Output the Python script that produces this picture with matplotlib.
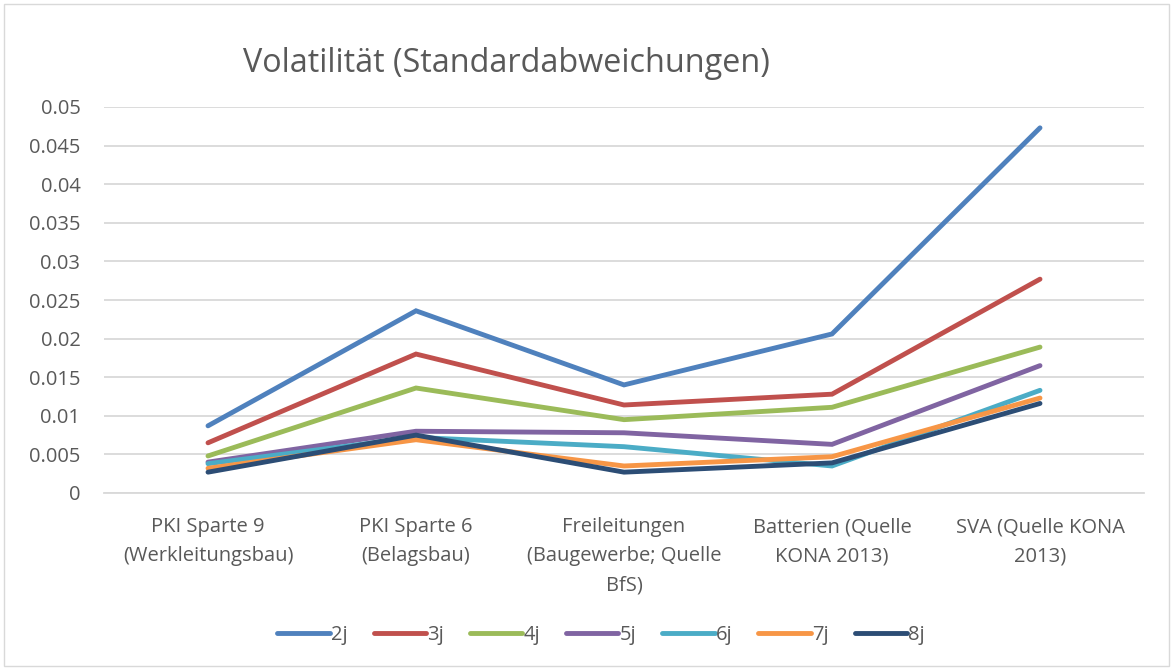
import matplotlib
matplotlib.use("Agg")
import matplotlib.pyplot as plt
from matplotlib.patches import Rectangle

plt.rcParams['font.family'] = ['Open Sans', 'DejaVu Sans']

categories = ['PKI Sparte 9\n(Werkleitungsbau)', 'PKI Sparte 6\n(Belagsbau)',
              'Freileitungen\n(Baugewerbe; Quelle\nBfS)', 'Batterien (Quelle\nKONA 2013)',
              'SVA (Quelle KONA\n2013)']
series_names = ['2j', '3j', '4j', '5j', '6j', '7j', '8j']
v_2j = [0.0087, 0.0236, 0.0140, 0.0206, 0.0473]
v_3j = [0.0065, 0.0180, 0.0114, 0.0128, 0.0277]
v_4j = [0.0048, 0.0136, 0.0095, 0.0111, 0.0189]
v_5j = [0.0040, 0.0080, 0.0078, 0.0063, 0.0165]
v_6j = [0.0038, 0.0072, 0.0060, 0.0035, 0.0133]
v_7j = [0.0032, 0.0069, 0.0035, 0.0047, 0.0123]
v_8j = [0.0027, 0.0075, 0.0027, 0.0039, 0.0116]
colors = ['#4F81BD', '#C0504D', '#9BBB59', '#8064A2', '#4BACC6', '#F79646', '#2C4D75']
y_ticks = [0, 0.005, 0.01, 0.015, 0.02, 0.025, 0.03, 0.035, 0.04, 0.045, 0.05]
y_labels = ['0', '0.005', '0.01', '0.015', '0.02', '0.025', '0.03', '0.035', '0.04', '0.045', '0.05']

txt = '#595959'
fig = plt.figure(figsize=(11.74, 6.70), dpi=100)
ax = fig.add_axes([104/1174, 1-493/670, 1040/1174, 386/670])

# outer chart border
fig.add_artist(Rectangle((4/1174, 4/670), 1165/1174, 662/670, transform=fig.transFigure,
                         fill=False, edgecolor='#D9D9D9', linewidth=1))

x = range(len(categories))
all_vals = [v_2j, v_3j, v_4j, v_5j, v_6j, v_7j, v_8j]
for name, vals, c in zip(series_names, all_vals, colors):
    ax.plot(x, vals, color=c, linewidth=3.5, label=name, solid_capstyle='round',
            solid_joinstyle='miter')

ax.set_xlim(-0.5, 4.5)
ax.set_ylim(0, 0.05)
ax.set_yticks(y_ticks, y_labels)
ax.set_xticks(list(x), categories)
ax.grid(True, axis='y', color='#D9D9D9', linewidth=1.3)
ax.set_axisbelow(True)
for s in ['top', 'right', 'left']:
    ax.spines[s].set_visible(False)
ax.spines['bottom'].set_color('#D9D9D9')
ax.spines['bottom'].set_linewidth(1.3)
ax.tick_params(axis='both', length=0, labelsize=14.5, colors=txt)
ax.tick_params(axis='y', pad=17)
ax.tick_params(axis='x', pad=17.5)
for lbl in ax.get_xticklabels():
    lbl.set_linespacing(1.6)

fig.text(506/1174, 1-63/670, 'Volatilität (Standardabweichungen)', ha='center', va='center',
         fontsize=23.3, color=txt)

ax.legend(loc='center', bbox_to_anchor=(601/1174, 1-635/670), bbox_transform=fig.transFigure,
          ncol=7, frameon=False, fontsize=14.5, labelcolor=txt, handlelength=2.6,
          handletextpad=0.05, columnspacing=1.3)

fig.savefig('out.png', dpi=100)
